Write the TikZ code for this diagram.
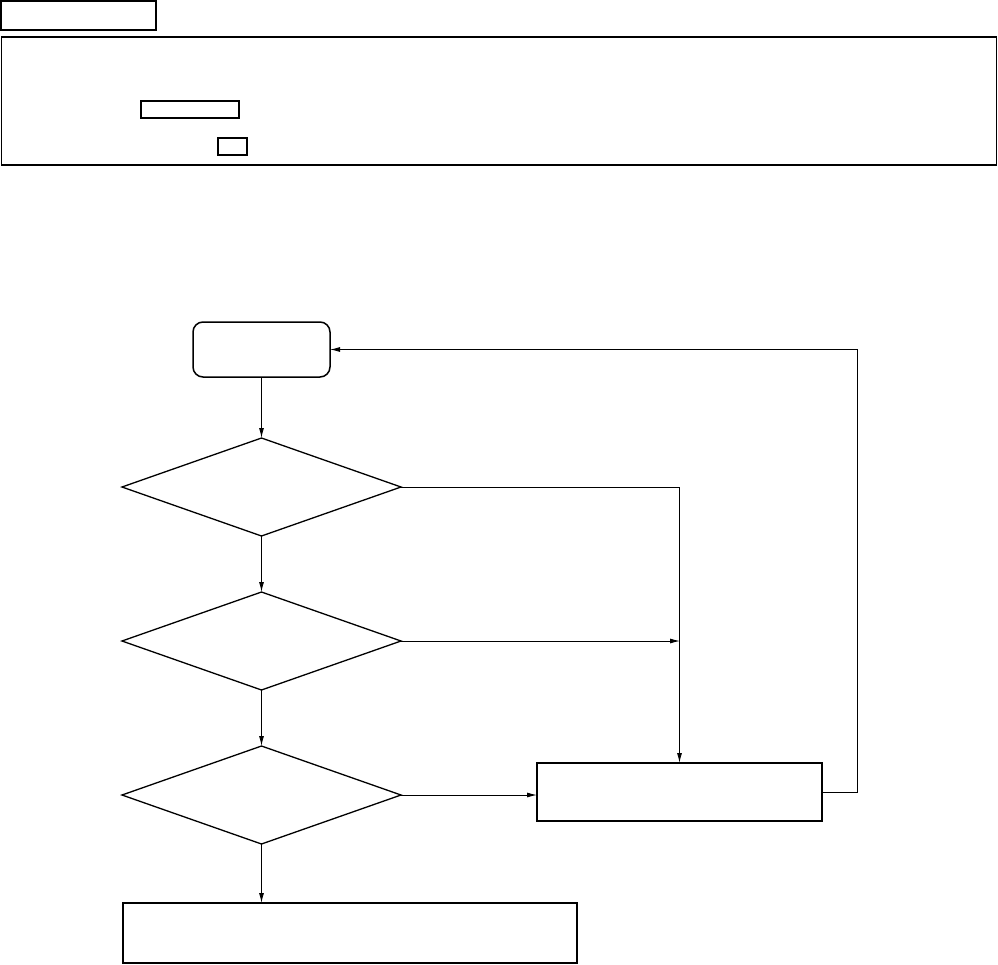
\documentclass[tikz,border=0pt]{standalone}
\usetikzlibrary{shapes.geometric,arrows.meta}
\begin{document}
\begin{tikzpicture}[x=1pt,y=-1pt,
  frame/.style={draw,line width=1.8pt,inner sep=0pt,outer sep=0pt},
  thinframe/.style={draw,line width=1.2pt,inner sep=0pt,outer sep=0pt},
  blk/.style={draw,line width=1.5pt,inner sep=0pt,outer sep=0pt},
  dec/.style={draw,diamond,line width=1.3pt,inner sep=0pt,outer sep=0pt,minimum width=279pt,minimum height=98pt},
  conn/.style={line width=0.9pt,-{Latex[length=10pt,width=5pt]}},
  plain/.style={line width=0.9pt}]
\useasboundingbox (0,0) rectangle (998,964);
% header
\node[frame,minimum width=155pt,minimum height=29pt] (title) at (78.5,15.5) {};
\node[frame,minimum width=995pt,minimum height=128pt] (panel) at (499,101) {};
\node[thinframe,minimum width=98pt,minimum height=17pt] (f1) at (190,109.5) {};
\node[thinframe,minimum width=29pt,minimum height=17pt] (f2) at (232.5,146.5) {};
% flowchart
\node[blk,rounded corners=10pt,minimum width=137pt,minimum height=55pt] (start) at (261.5,349.5) {};
\node[dec] (d1) at (261.5,487) {};
\node[dec] (d2) at (261.5,641) {};
\node[dec] (d3) at (261.5,795) {};
\node[blk,minimum width=285pt,minimum height=58pt] (proc) at (679.5,792) {};
\node[blk,minimum width=454pt,minimum height=60pt] (fin) at (350,933) {};
\coordinate (j) at (680,641);
\coordinate (r) at (857,792);
\draw[conn] (start.south) -- (d1.north);
\draw[conn] (d1.south) -- (d2.north);
\draw[conn] (d2.south) -- (d3.north);
\draw[conn] (d3.south) -- (d3.south |- fin.north);
\draw[conn] (d1.east) -| (proc.north);
\draw[conn] (d2.east) -- (j);
\draw[conn] (d3.east) -- (d3.east -| proc.west);
\draw[conn] (proc.east) -- (r) |- (start.east);
\end{tikzpicture}
\end{document}
